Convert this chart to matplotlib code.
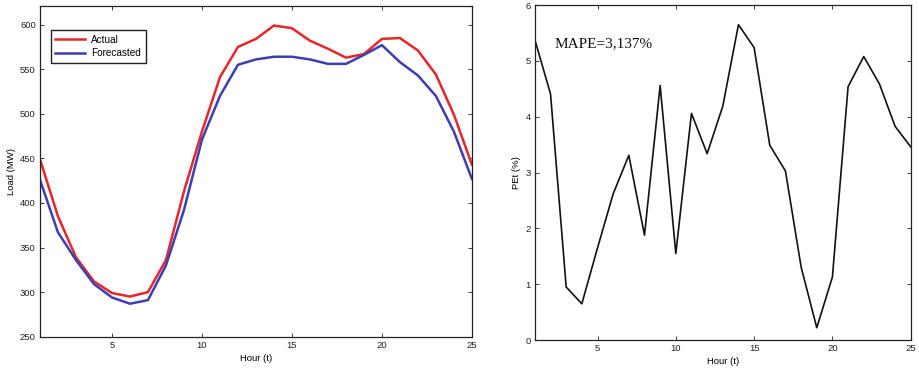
import numpy as np
import matplotlib
matplotlib.use("Agg")
import matplotlib.pyplot as plt

plt.rcParams['font.family'] = ['Liberation Sans', 'DejaVu Sans']

hours = np.arange(1, 26)
actual = [449, 385, 339, 312, 299, 295, 300, 336, 413, 480, 541, 575, 584, 599, 596,
          582, 573, 563, 567, 584, 585, 571, 544, 499, 443]
forecasted = [426, 367, 336, 309, 294, 287, 291, 330, 392, 471, 520, 555, 561, 564, 564,
              561, 556, 556, 566, 577, 558, 543, 520, 480, 427]
pe = [5.38, 4.41, 0.95, 0.65, 1.65, 2.62, 3.31, 1.88, 4.56, 1.55, 4.06, 3.34, 4.19, 5.65, 5.24,
      3.49, 3.03, 1.31, 0.22, 1.13, 4.54, 5.08, 4.59, 3.83, 3.46]
mape_text = "MAPE=3,137%"
xticks = [5, 10, 15, 20, 25]


def style_axes(ax):
    ax.tick_params(direction='in', length=3, width=0.6, labelsize=6.8, pad=3,
                   top=True, right=True, colors='#222222')
    for s in ax.spines.values():
        s.set_linewidth(0.9)
        s.set_color('#222222')


fig = plt.figure(figsize=(9.19, 3.70), dpi=100)

ax1 = fig.add_axes([0.0435, 0.090, 0.470, 0.894])
ax1.plot(hours, actual, color='#e8262a', lw=1.8, label='Actual')
ax1.plot(hours, forecasted, color='#3c3fb4', lw=1.8, label='Forecasted')
ax1.set_xlim(1, 25)
ax1.set_ylim(250, 621)
ax1.set_xticks(xticks)
ax1.set_yticks(np.arange(250, 601, 50))
ax1.set_xlabel('Hour (t)', fontsize=6.8, labelpad=3)
ax1.set_ylabel('Load (MW)', fontsize=6.8, labelpad=3)
style_axes(ax1)
leg = ax1.legend(loc='upper left', bbox_to_anchor=(0.025, 0.927), borderaxespad=0,
                 fontsize=7.2, fancybox=False, framealpha=1, edgecolor='#222222',
                 handlelength=3.0, borderpad=0.45, labelspacing=0.35, handletextpad=0.6)
leg.get_frame().set_linewidth(1.0)

ax2 = fig.add_axes([0.582, 0.081, 0.409, 0.905])
ax2.plot(hours, pe, color='#111111', lw=1.2)
ax2.set_xlim(1, 25)
ax2.set_ylim(0, 6)
ax2.set_xticks(xticks)
ax2.set_yticks(np.arange(0, 7, 1))
ax2.set_xlabel('Hour (t)', fontsize=6.8, labelpad=3)
ax2.set_ylabel('PEt (%)', fontsize=6.8, labelpad=3)
style_axes(ax2)
ax2.text(2.28, 5.25, mape_text, family=['Liberation Serif', 'DejaVu Serif'],
         fontsize=11, color='#111111', va='baseline', ha='left')

fig.savefig('out.png', dpi=100)
